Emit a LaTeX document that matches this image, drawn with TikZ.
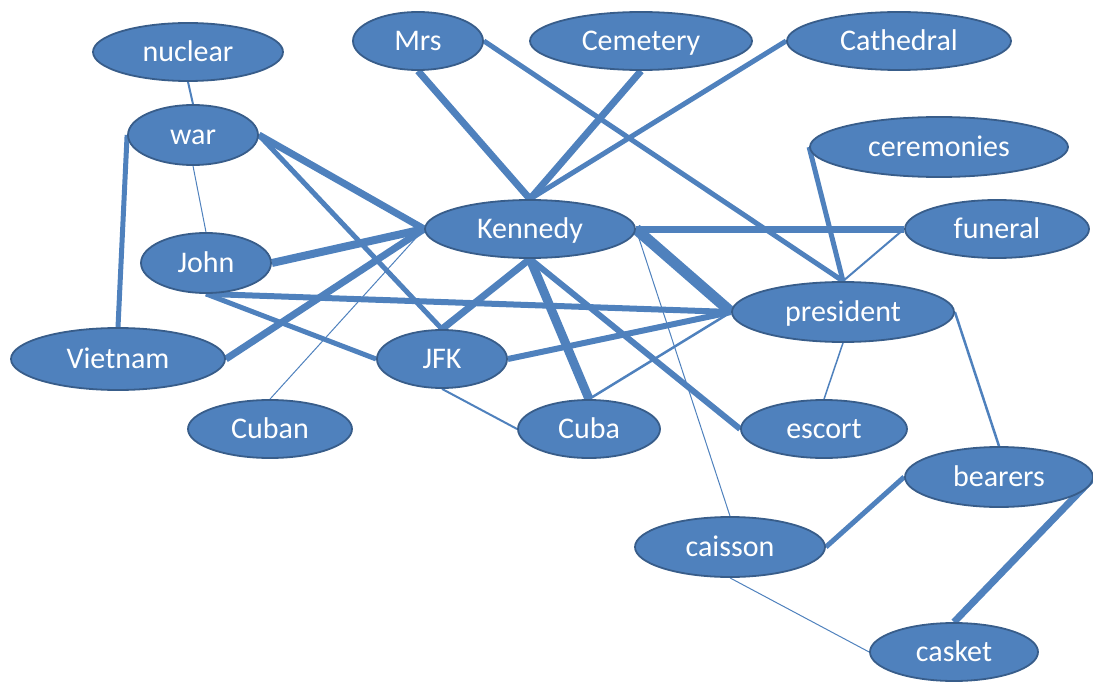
\documentclass[tikz,border=0pt]{standalone}
\usepackage{fontspec}
\setmainfont{Carlito}
\usetikzlibrary{shapes.geometric,backgrounds}
\definecolor{nodefill}{HTML}{4F81BD}
\definecolor{nodeborder}{HTML}{385D8A}
\definecolor{edgecol}{HTML}{4F81BD}
\tikzset{
  term/.style={ellipse, fill=nodefill, draw=nodeborder, line width=1.8pt,
    inner sep=0pt, text=white, font=\fontsize{30}{30}\selectfont,
    text height=24pt, text depth=4.5pt},
  link/.style={draw=edgecol, line width=#1},
}
\begin{document}
\begin{tikzpicture}[x=1pt,y=-1pt]
\useasboundingbox (0,0) rectangle (1093,682);
\node[term, minimum width=190, minimum height=58] (nuclear) at (188,52) {nuclear};
\node[term, minimum width=130, minimum height=60] (war) at (193,135) {war};
\node[term, minimum width=130, minimum height=58] (mrs) at (418,41) {Mrs};
\node[term, minimum width=222, minimum height=58] (cemetery) at (641,41) {Cemetery};
\node[term, minimum width=224, minimum height=58] (cathedral) at (899,41) {Cathedral};
\node[term, minimum width=258, minimum height=60] (ceremonies) at (939,147) {ceremonies};
\node[term, minimum width=130, minimum height=60] (john) at (206,263) {John};
\node[term, minimum width=210, minimum height=58] (kennedy) at (530,229) {Kennedy};
\node[term, minimum width=184, minimum height=58] (funeral) at (997,229) {funeral};
\node[term, minimum width=222, minimum height=60] (president) at (843,312) {president};
\node[term, minimum width=214, minimum height=62] (vietnam) at (118,359) {Vietnam};
\node[term, minimum width=130, minimum height=58] (jfk) at (442,359) {JFK};
\node[term, minimum width=164, minimum height=58] (cuban) at (270,429) {Cuban};
\node[term, minimum width=142, minimum height=58] (cuba) at (589,429) {Cuba};
\node[term, minimum width=166, minimum height=58] (escort) at (824,429) {escort};
\node[term, minimum width=188, minimum height=60] (bearers) at (999,477) {bearers};
\node[term, minimum width=190, minimum height=60] (caisson) at (730,547) {caisson};
\node[term, minimum width=168, minimum height=58] (casket) at (954,652) {casket};
\begin{scope}[on background layer]
\draw[link=2] (nuclear.south) -- (war.north);
\draw[link=1] (war.south) -- (john.north);
\draw[link=5] (war.west) -- (vietnam.north);
\draw[link=7] (war.east) -- (kennedy.west);
\draw[link=5] (war.east) -- (jfk.north);
\draw[link=8] (john.east) -- (kennedy.west);
\draw[link=6] (john.south) -- (president.west);
\draw[link=5] (john.south) -- (jfk.west);
\draw[link=7] (vietnam.east) -- (kennedy.west);
\draw[link=1] (cuban.north) -- (kennedy.west);
\draw[link=7] (mrs.south) -- (kennedy.north);
\draw[link=5] (mrs.east) -- (president.north);
\draw[link=7] (cemetery.south) -- (kennedy.north);
\draw[link=5] (cathedral.west) -- (kennedy.north);
\draw[link=5] (ceremonies.west) -- (president.north);
\draw[link=7] (kennedy.east) -- (funeral.west);
\draw[link=2] (funeral.west) -- (president.north);
\draw[link=11] (kennedy.east) -- (president.west);
\draw[link=1] (kennedy.east) -- (caisson.north);
\draw[link=7] (kennedy.south) -- (jfk.north);
\draw[link=9] (kennedy.south) -- (cuba.north);
\draw[link=6] (kennedy.south) -- (escort.west);
\draw[link=6] (jfk.east) -- (president.west);
\draw[link=2] (jfk.south) -- (cuba.west);
\draw[link=2.5] (cuba.north) -- (president.west);
\draw[link=1.5] (president.south) -- (escort.north);
\draw[link=2.5] (president.east) -- (bearers.north);
\draw[link=5] (bearers.west) -- (caisson.east);
\draw[link=7] (bearers.east) -- (casket.north);
\draw[link=1] (caisson.south) -- (casket.west);
\end{scope}
\end{tikzpicture}
\end{document}
